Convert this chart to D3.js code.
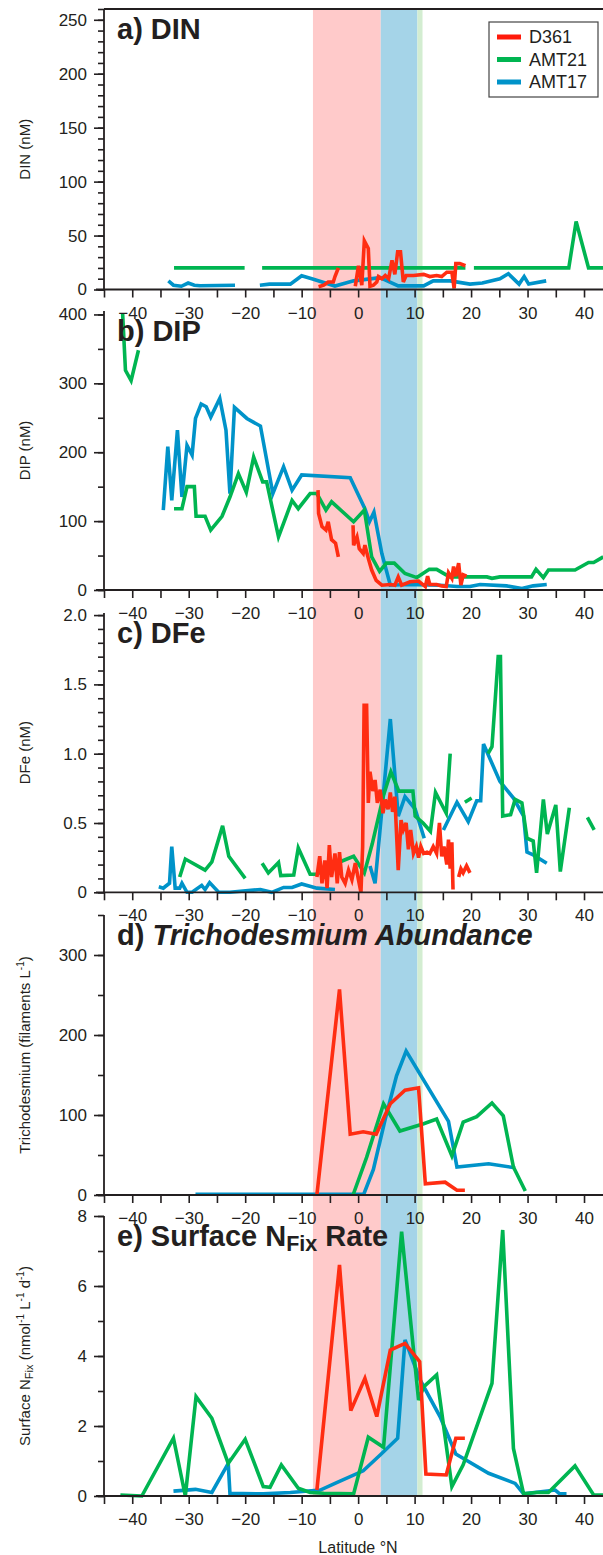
<!DOCTYPE html>
<html>
<head>
<meta charset="utf-8">
<script src="https://cdn.jsdelivr.net/npm/d3@7"></script>
<style>
  body { margin: 0; background: #fff; }
  svg { display: block; }
  text { font-family: "Liberation Sans", Arial, Helvetica, sans-serif; fill: #231f20; }
</style>
</head>
<body>
<svg id="chart" width="603" height="1555"></svg>
<script>
// ---------------- data (latitude °N, value); null marks a gap ----------------
const cruises = ["D361", "AMT21", "AMT17"];
const xTicks = [-45, -40, -35, -30, -25, -20, -15, -10, -5, 0, 5, 10, 15, 20, 25, 30, 35, 40];

// shaded latitude bands
const bandPink = [-8, 4];
const bandBlue = [4, 10.5];
const bandGreen = [10.5, 11.4];

// a) DIN (nM)
const dinD361Lat = [-7, -6.1, -5.3, -4.4, -4.1, -3.5, -2, -0.5, 0.06, 0.65, 1.1, 1.8, 2.1, 2.7, 3.3, 3.6, 4.2, 4.8, 5.4, 6, 6.5, 7, 7.5, 8, 8.5, 9.8, 11.6, 12.7, 13.9, 14.8, 15.7, 16.6, 17, 17.3, 18, 19];
const dinD361Val = [2.6, 4, 7, 7, 12, 20, null, 3, 22, 4, 45, 38, 3, 4, 7, 12, 10, 13, 10, 27, 14, 35, 35, 7, 13, 13, 14, 12, 13, 12, 16, 16, 1, 24, 24, 22];
const dinAmt21Lat = [-32.6, -26, -20.1, -18.5, -17, -10, 0, 10, 19, 19.8, 20.5, 30, 37.3, 38.6, 40.8, 43.4];
const dinAmt21Val = [20, 20, 20, null, 20, 20, 20, 20, 20, null, 20, 20, 20, 63, 20, 20];
const dinAmt17Lat = [-33.6, -32.7, -31.3, -30.1, -29, -28, -21.8, -19.5, -17.4, -15.7, -12, -10, -8.2, -4.1, -0.8, 3.9, 7.1, 11.6, 13.3, 16.3, 19.8, 22, 25.1, 26.6, 28.5, 29.4, 30.2, 33.3];
const dinAmt17Val = [8, 4, 3, 6, 4, 3.5, 4, null, 4, 5, 5, 12.8, 10, 3.2, 8, 11, 3.4, 3.4, 8, 8, 5, 6, 10, 14.6, 5, 12, 5, 8];

// b) DIP (nM)
const dipD361Lat = [-7.1, -7, -6.4, -5.7, -5.3, -4.7, -4, -3.5, -2, -0.9, -0.8, -0.2, 0.2, 0.9, 1.2, 1.8, 2.4, 3.2, 4.2, 5.7, 6.5, 7.1, 7.7, 9.2, 10.7, 11.9, 12.3, 12.7, 13.9, 14.8, 15.6, 16, 16.6, 16.9, 17.3, 17.8, 18.2, 18.6, 19.2];
const dipD361Val = [145, 111, 92, 87, 99, 73, 68, 48, null, 94, 65, 77, 60, 53, 65, 46, 29, 14, 7, 8, 7, 19, 7, 12, 13, 5, 20, 8, 8, 6, 5, 25, 17, 34, 20, 39, 7, 22, 20];
const dipAmt21Lat = [-41.7, -41.2, -40.2, -38.9, -35, -32.6, -31.2, -30.3, -29, -28.7, -27.1, -26.1, -24.1, -22.7, -21.2, -19.8, -18.5, -16.9, -16.2, -14.1, -11.7, -10.6, -8.5, -7.3, -5.7, -4.7, -0.8, 1.1, 2.4, 3.8, 5, 6.4, 8.3, 10.4, 12.6, 13.9, 16.2, 18, 22.8, 23.7, 25.1, 30.7, 31.5, 32.8, 33.7, 38.4, 40.8, 41.7, 43.4];
const dipAmt21Val = [401, 319, 304, 348, null, 118, 118, 150, 150, 107, 107, 87, 107, 135, 169, 142, 193, 157, 157, 77, 130, 118, 140, 140, 116, 128, 99, 116, 48, 27, 39, 39, 24, 18, 30, 30, 19, 19, 19, 17, 19, 19, 30, 18, 29, 29, 40, 40, 48];
const dipAmt17Lat = [-34.5, -33.7, -33, -32, -31.2, -30.3, -29.4, -28.8, -27.8, -26.9, -26.1, -24.5, -23.4, -22.7, -21.9, -19.7, -17.3, -15.1, -13.2, -11.7, -10, -1.4, 1.2, 2, 2.8, 4.2, 5.7, 8.6, 14.5, 17.5, 19.8, 21.6, 26.3, 29, 31, 33.4];
const dipAmt17Val = [116, 208, 130, 232, 135, 210, 196, 249, 270, 266, 251, 278, 232, 140, 265, 249, 238, 140, 179, 145, 167, 163, 118, 99, 113, 53, 7, 8, 7, 5, 5, 8, 6, 2, 6, 8];

// c) DFe (nM)
const dfeD361Lat = [-7.3, -6.8, -6.4, -5.9, -5.5, -5.1, -4.7, -4.1, -3.7, -3.3, -2.9, -2.3, -1.7, -1.1, -0.5, 0.06, 0.5, 0.8, 1.06, 1.5, 1.8, 2.1, 2.6, 3, 3.4, 3.9, 4.4, 4.8, 5.3, 5.7, 6.1, 6.5, 7.1, 7.6, 8, 8.5, 8.9, 9.3, 9.8, 10.3, 10.7, 11.1, 11.6, 12.2, 12.7, 13.3, 13.9, 14.4, 14.8, 15.2, 15.7, 16, 16.3, 16.6, 16.8, 17.3, 17.8, 18.2, 18.6, 19.2, 19.8];
const dfeD361Val = [0.11, 0.26, 0.065, 0.23, 0.03, 0.34, 0.11, 0.28, 0.065, 0.29, 0.11, 0.065, 0.16, 0.09, 0.21, 0.09, 0, 0.33, 1.35, 1.35, 0.645, 0.87, 0.73, 0.81, 0.645, 0.74, 0.57, 0.67, 0.6, 0.72, 0.58, 0.69, 0.16, 0.52, 0.45, 0.5, 0.31, 0.45, 0.28, 0.33, 0.25, 0.33, 0.28, 0.29, 0.28, 0.33, 0.28, 0.5, 0.26, 0.33, 0.2, 0.38, 0.17, 0.36, 0.02, null, 0.11, 0.17, 0.14, 0.19, 0.14];
const dfeAmt21Lat = [-31.6, -30.6, -27.1, -25.9, -24, -22.9, -20, -18.5, -17, -15.9, -14.1, -13.7, -11.4, -10.6, -8.5, -7.3, -5, -0.8, 1.1, 2.5, 4.5, 5.8, 7.2, 9.7, 10.1, 11.5, 12.8, 13.7, 15.6, 16.3, 17.6, 18.9, 20.1, 21.5, 23, 23.7, 24.8, 25.2, 25.6, 27, 27.8, 29, 29.9, 31, 31.6, 32.8, 33.5, 35, 35.8, 37.4, 39, 40.6, 41.8];
const dfeAmt21Val = [0.11, 0.24, 0.16, 0.22, 0.48, 0.26, 0.1, null, 0.21, 0.14, 0.215, 0.12, 0.125, 0.32, 0.13, 0.13, 0.19, 0.26, 0.14, 0.35, 0.7, 0.87, 0.73, 0.73, 0.55, 0.5, 0.44, 0.72, 0.57, 1.0, null, 0.65, 0.68, null, 1.0, 1.05, 1.7, 1.7, 0.55, 0.56, 0.67, 0.645, 0.39, 0.37, 0.14, 0.67, 0.42, 0.63, 0.15, 0.61, null, 0.54, 0.45];
const dfeAmt17Lat = [-35.3, -34.5, -34.2, -33.4, -33, -32.4, -31.6, -31.2, -30.3, -29.4, -27.7, -27.1, -26.3, -24.7, -22.7, -17.3, -15.3, -13.2, -11.7, -10, -7.3, -4.1, -1, 2.1, 3, 5.7, 7.1, 8.3, 10.1, 11.7, 13.5, 15.1, 17.5, 19.5, 21, 21.7, 22.2, 25.1, 27.5, 29.3, 29.9, 31, 33.4];
const dfeAmt17Val = [0.04, 0.03, 0.04, 0.065, 0.33, 0.03, 0.03, 0.065, 0, 0, 0.05, 0.02, 0.07, 0, 0, 0.02, 0, 0.035, 0.035, 0.06, 0.03, 0.02, null, 0.19, 0.065, 1.25, 0.55, 0.69, 0.6, 0.39, null, 0.45, 0.65, 0.51, 0.66, 0.66, 1.07, 0.8, 0.68, 0.55, 0.29, 0.27, 0.21];

// d) Trichodesmium abundance (filaments L-1)
const triD361Lat = [-7.3, -3.3, -1.4, 0.9, 3.2, 5.7, 8.3, 10.7, 11.9, 15.4, 17.5, 18.9];
const triD361Val = [0, 257, 76, 79, 76, 114, 131, 134, 14, 16, 6, 6];
const triAmt21Lat = [-0.9, 1.5, 4.5, 7.4, 11.6, 13.9, 16.6, 18.6, 21, 23.7, 25.7, 27.5, 29.6];
const triAmt21Val = [0, 47, 114, 80, 89, 95, 49, 91, 98, 115, 99, 35, 5];
const triAmt17Lat = [-28.8, -23, -17, -11, -5, -0.2, 1, 2.7, 4.8, 6.8, 8.5, 16, 17.5, 23.1, 27.8];
const triAmt17Val = [1, 1, 1, 1, 1, 1, 1, 32, 95, 149, 180, 92, 35, 39, 34];

// e) Surface N fixation rate (nmol L-1 d-1)
const nfixD361Lat = [-7.3, -3.3, -1.3, 1.2, 3.3, 5.7, 8.3, 10.9, 12, 15.6, 17.3, 18.9];
const nfixD361Val = [0.17, 6.6, 2.44, 3.36, 2.27, 4.17, 4.36, 3.84, 0.63, 0.6, 1.65, 1.65];
const nfixAmt21Lat = [-42.1, -38.3, -32.7, -30.6, -28.7, -25.9, -23, -20, -16.8, -15.6, -13.6, -10.6, -8.5, -6.1, -0.8, 1.8, 4.5, 7.7, 10.7, 11.6, 13.9, 16.6, 18.6, 23.7, 25.6, 27.5, 29.3, 31.6, 33.7, 38.4, 41.7, 43.4];
const nfixAmt21Val = [0.03, 0, 1.65, 0, 2.84, 2.22, 0.93, 1.62, 0.27, 0.25, 0.89, 0.22, 0.1, 0.08, 0.06, 1.68, 1.39, 7.55, 2.74, 3.12, 3.46, 0.27, 0.89, 3.22, 7.6, 1.36, 0.06, 0.1, 0.1, 0.86, 0.03, 0.03];
const nfixAmt17Lat = [-32.7, -28.8, -25.9, -23, -22.7, -16.8, -12, -6.7, -3.8, 0.9, 3.9, 7, 8.3, 11, 14.5, 17.3, 23.1, 27.8, 29.3, 34.9, 35.7, 36.9];
const nfixAmt17Val = [0.14, 0.19, 0.1, 0.93, 0.08, 0.06, 0.1, 0.17, 0.38, 0.72, 1.17, 1.65, 4.46, 3.31, 2.27, 1.2, 0.65, 0.36, 0.06, 0.17, 0.06, 0.06];

// ---------------- layout ----------------
const colors = { D361: "#ff2d12", AMT21: "#00b551", AMT17: "#0093c9" };
const ink = "#231f20";
const svg = d3.select("#chart");
const x = d3.scaleLinear().domain([-45, 43.36]).range([104, 603]);

const panels = [
  { top: 9, bottom: 289.5, max: 260, major: d3.range(0, 251, 50), minor: d3.range(0, 261, 10), fmt: d3.format("d"),
    title: [{ t: "a) DIN" }], ylabel: [{ t: "DIN (nM)" }],
    series: { D361: [dinD361Lat, dinD361Val], AMT21: [dinAmt21Lat, dinAmt21Val], AMT17: [dinAmt17Lat, dinAmt17Val] } },
  { top: 311, bottom: 590, max: 405, major: d3.range(0, 401, 100), minor: d3.range(0, 401, 50), fmt: d3.format("d"),
    title: [{ t: "b) DIP" }], ylabel: [{ t: "DIP (nM)" }],
    series: { D361: [dipD361Lat, dipD361Val], AMT21: [dipAmt21Lat, dipAmt21Val], AMT17: [dipAmt17Lat, dipAmt17Val] } },
  { top: 613, bottom: 892.3, max: 2.015, major: [0, 0.5, 1, 1.5, 2], minor: d3.range(0, 21).map(i => i / 10),
    fmt: d => d === 0 ? "0" : d3.format(".1f")(d),
    title: [{ t: "c) DFe" }], ylabel: [{ t: "DFe (nM)" }],
    series: { D361: [dfeD361Lat, dfeD361Val], AMT21: [dfeAmt21Lat, dfeAmt21Val], AMT17: [dfeAmt17Lat, dfeAmt17Val] } },
  { top: 915, bottom: 1195, max: 350, major: d3.range(0, 301, 100), minor: d3.range(0, 351, 50), fmt: d3.format("d"),
    title: [{ t: "d) " }, { t: "Trichodesmium Abundance", italic: true }],
    ylabel: [{ t: "Trichodesmium (filaments L" }, { t: "-1", sup: true }, { t: ")" }],
    series: { D361: [triD361Lat, triD361Val], AMT21: [triAmt21Lat, triAmt21Val], AMT17: [triAmt17Lat, triAmt17Val] } },
  { top: 1216, bottom: 1496, max: 8, major: d3.range(0, 9, 2), minor: d3.range(0, 9, 1), fmt: d3.format("d"),
    title: [{ t: "e) Surface N" }, { t: "Fix", sub: true }, { t: " Rate" }],
    ylabel: [{ t: "Surface N" }, { t: "Fix", sub: true }, { t: " (nmol" }, { t: "-1", sup: true }, { t: " L" }, { t: "-1", sup: true }, { t: " d" }, { t: "-1", sup: true }, { t: ")" }],
    series: { D361: [nfixD361Lat, nfixD361Val], AMT21: [nfixAmt21Lat, nfixAmt21Val], AMT17: [nfixAmt17Lat, nfixAmt17Val] } }
];

// latitude bands run through all panels
const bandTop = panels[0].top, bandBottom = panels[panels.length - 1].bottom;
[[bandPink, "#ffcaca"], [bandBlue, "#a5d4e8"], [bandGreen, "#d3edd1"]].forEach(([b, c]) => {
  svg.append("rect").attr("x", x(b[0])).attr("y", bandTop)
    .attr("width", x(b[1]) - x(b[0])).attr("height", bandBottom - bandTop).attr("fill", c);
});

const lineLayer = svg.append("g");
const axisLayer = svg.append("g");

panels.forEach((p, i) => {
  const y = d3.scaleLinear().domain([0, p.max]).range([p.bottom, p.top]);
  const line = d3.line().defined(d => d.v != null).x(d => x(d.lat)).y(d => y(d.v));

  // series lines, D361 drawn last so it sits on top
  ["AMT17", "AMT21", "D361"].forEach(name => {
    const [lat, val] = p.series[name];
    const pts = lat.map((l, k) => ({ lat: l, v: val[k] }));
    lineLayer.append("path").datum(pts)
      .attr("d", line).attr("fill", "none")
      .attr("stroke", colors[name]).attr("stroke-width", 3.6)
      .attr("stroke-linejoin", "miter").attr("stroke-miterlimit", 4);
  });

  const g = axisLayer.append("g");
  // y axis: minor then major ticks
  g.append("g").attr("transform", "translate(104,0)")
    .call(d3.axisLeft(y).tickValues(p.minor).tickSize(6).tickFormat(""))
    .call(s => s.select(".domain").remove());
  g.append("g").attr("transform", "translate(104,0)")
    .call(d3.axisLeft(y).tickValues(p.major).tickSize(10).tickPadding(7).tickFormat(p.fmt))
    .call(s => s.select(".domain").remove())
    .call(s => s.selectAll("text").attr("font-size", 17).attr("fill", ink)
      .style("font-family", '"Liberation Sans", Arial, sans-serif'));
  // x axis
  g.append("g").attr("transform", `translate(0,${p.bottom})`)
    .call(d3.axisBottom(x).tickValues(xTicks).tickSize(8).tickPadding(9)
      .tickFormat(d => d % 10 === 0 ? d3.format("d")(d) : ""))
    .call(s => s.select(".domain").remove())
    .call(s => s.selectAll("text").attr("font-size", 17).attr("fill", ink)
      .style("font-family", '"Liberation Sans", Arial, sans-serif'));
  g.selectAll(".tick line").attr("stroke", ink).attr("stroke-width", 1.6);

  // axis lines
  g.append("line").attr("x1", 104).attr("x2", 104).attr("y1", p.top).attr("y2", p.bottom)
    .attr("stroke", ink).attr("stroke-width", 1.8);
  g.append("line").attr("x1", 96).attr("x2", 603).attr("y1", p.bottom).attr("y2", p.bottom)
    .attr("stroke", ink).attr("stroke-width", 1.8);
  if (i === 0) {
    g.append("line").attr("x1", 104).attr("x2", 603).attr("y1", p.top).attr("y2", p.top)
      .attr("stroke", ink).attr("stroke-width", 1.8);
  }

  // panel title
  const t = g.append("text").attr("x", 117).attr("y", p.top + 30)
    .attr("font-size", 29).attr("font-weight", "bold");
  p.title.forEach((s, k) => {
    const ts = t.append("tspan").text(s.t);
    if (s.italic) ts.attr("font-style", "italic");
    if (s.sub) ts.attr("font-size", 21.5).attr("dy", 5);
    else if (k > 0 && p.title[k - 1].sub) ts.attr("dy", -5);
  });

  // y axis label
  const cy = (p.top + p.bottom) / 2;
  const yl = g.append("text").attr("transform", `translate(30,${cy}) rotate(-90)`)
    .attr("text-anchor", "middle").attr("font-size", 15).attr("fill", "#333");
  let shift = 0;
  p.ylabel.forEach(s => {
    const ts = yl.append("tspan").text(s.t);
    let target = 0, size = null;
    if (s.sub) { target = 3; size = 11; }
    if (s.sup) { target = -6; size = 10; }
    ts.attr("dy", target - shift);
    if (size) ts.attr("font-size", size);
    shift = target;
  });
});

// legend
const lg = svg.append("g");
lg.append("rect").attr("x", 489).attr("y", 22).attr("width", 109).attr("height", 75)
  .attr("fill", "#fff").attr("stroke", "#444").attr("stroke-width", 1.2);
cruises.forEach((name, k) => {
  const cy = 37 + k * 22.5;
  lg.append("line").attr("x1", 497).attr("x2", 521).attr("y1", cy).attr("y2", cy)
    .attr("stroke", name === "D361" ? "#ff1a0a" : colors[name]).attr("stroke-width", 5);
  lg.append("text").attr("x", 529).attr("y", cy).attr("dy", "0.36em")
    .attr("font-size", 18).text(name);
});

// x axis title
svg.append("text").attr("x", 358).attr("y", 1547).attr("dy", "0.36em")
  .attr("text-anchor", "middle").attr("font-size", 16).attr("fill", "#333").text("Latitude °N");
</script>
</body>
</html>
